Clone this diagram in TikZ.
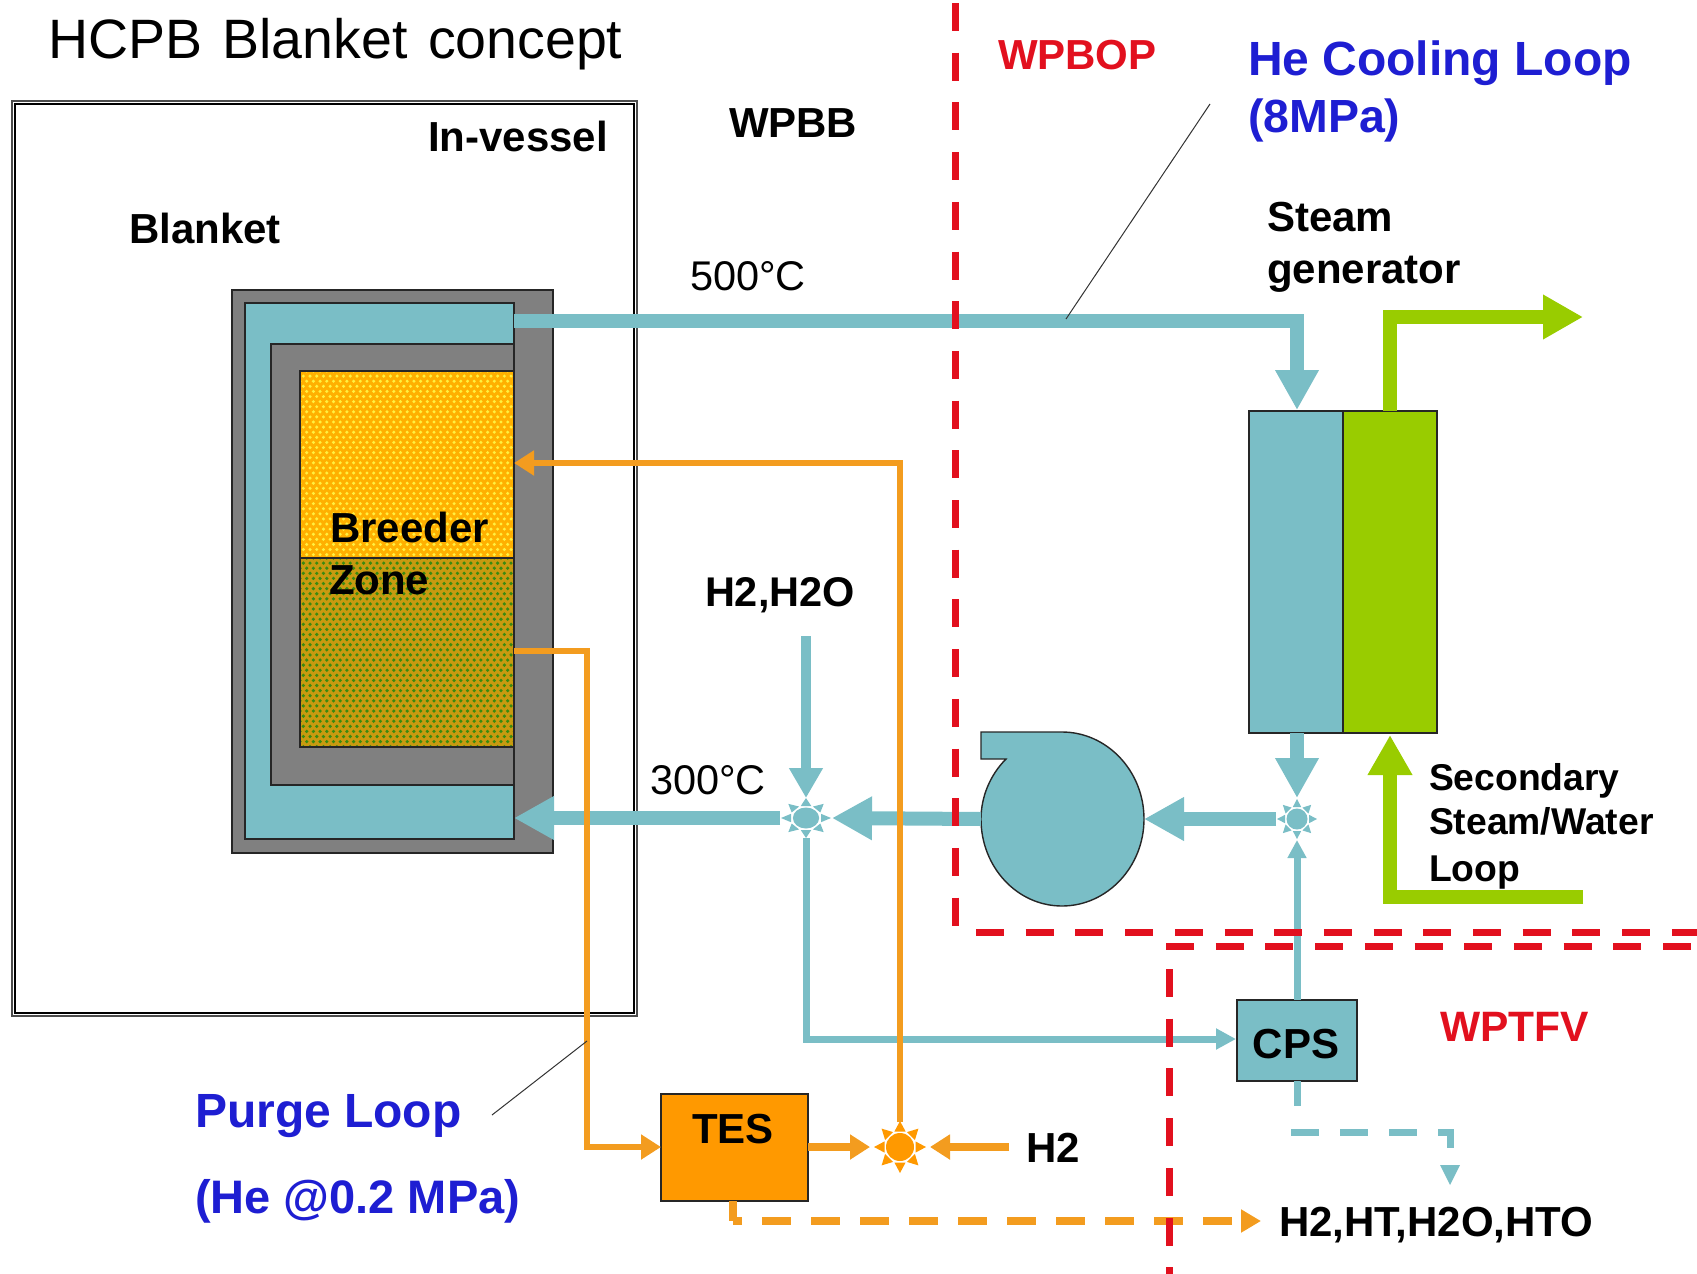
\documentclass[tikz,border=0pt]{standalone}
\usepackage{fontspec}
\setmainfont{Liberation Sans}
\usetikzlibrary{arrows.meta,calc}
\definecolor{cteal}{HTML}{7ABEC6}
\definecolor{cgreen}{HTML}{99CC00}
\definecolor{corange}{HTML}{FF9900}
\definecolor{cline}{HTML}{F39C1F}
\definecolor{cgrey}{HTML}{808080}
\definecolor{cred}{HTML}{E2101E}
\definecolor{cblue}{HTML}{1E1ED2}
\definecolor{cyel}{HTML}{FFF040}
\definecolor{cbase}{HTML}{FFB000}
\definecolor{cbaseb}{HTML}{C89A10}
\definecolor{cdgreen}{HTML}{3A8A10}
\tikzset{
  boxed/.style={draw=black!85,line width=1.6pt,inner sep=0,outer sep=0},
  lbl/.style={inner sep=0,outer sep=0,anchor=west,text height=30pt,text depth=0pt,font=\fontsize{42}{42}\selectfont\bfseries},
  lblc/.style={lbl,anchor=center},
  reg/.style={lbl,font=\fontsize{41.5}{42}\selectfont},
  bluet/.style={lbl,text=cblue,text height=34pt,font=\fontsize{48}{48}\selectfont\bfseries},
  redt/.style={lbl,text=cred,font=\fontsize{42.5}{42}\selectfont\bfseries},
  small/.style={lbl,text height=27pt,font=\fontsize{37.3}{37}\selectfont\bfseries},
  pipe/.style={draw=cteal,line width=14pt,-{Triangle[length=40pt,width=41pt]}},
  tpipe/.style={draw=cteal,line width=7pt,-{Triangle[length=20pt,width=20pt]}},
  gpipe/.style={draw=cgreen,line width=14pt,-{Triangle[length=40pt,width=42pt]}},
  opipe/.style={draw=cline,line width=5.5pt,-{Triangle[length=20pt,width=24pt]}},
  opipeb/.style={draw=cline,line width=8pt,-{Triangle[length=20pt,width=24pt]}},
  reddash/.style={draw=cred,line width=7pt,dash pattern=on 28pt off 21.7pt},
  leader/.style={draw=black!80,line width=1pt},
  junc/.style n args={2}{rectangle,inner sep=0,outer sep=0,minimum width=#1,minimum height=#2},
  pics/sun/.style n args={3}{code={
    \fill[#1] (0,0) circle (#2);
    \foreach \a in {0,45,...,315}{
      \fill[#1,rotate=\a] (#2+1.5pt,-#2*0.4) -- (#3,0) -- (#2+1.5pt,#2*0.4) -- cycle;
    }
  }}
}
\begin{document}
\begin{tikzpicture}[x=1pt,y=-1pt]
\useasboundingbox (0,0) rectangle (1697,1274);
% in-vessel frame
\node[draw=black!70,line width=1.8pt,inner sep=0,minimum width=625pt,minimum height=915pt,anchor=north west] (frameout) at (11,100) {};
\node[draw=black,line width=1.8pt,inner sep=0,minimum width=619pt,minimum height=909pt,anchor=north west] (framein) at (14,103) {};
% blanket
\node[boxed,fill=cgrey,minimum width=321pt,minimum height=563pt,anchor=north west] (blkt) at (232,290) {};
\node[boxed,fill=cteal,minimum width=269pt,minimum height=536pt,anchor=north west] (coolant) at (245,303) {};
\node[boxed,fill=cgrey,minimum width=243pt,minimum height=441pt,anchor=north west] (wall) at (271,344) {};
\fill[cbase] (300,371) rectangle (514,558);
\fill[cbaseb] (300,558) rectangle (514,747);
\begin{scope}
\clip (300,371) rectangle (514,558);
\foreach \r in {0,...,37}{
  \foreach \c in {0,...,32}{
    \fill[cyel] ({300+\c*6.7+mod(\r,2)*3.35},{371+\r*5.1}) circle (1.7pt);
  }
}
\end{scope}
\begin{scope}
\clip (300,558) rectangle (514,747);
\foreach \r in {0,...,37}{
  \foreach \c in {0,...,32}{
    \fill[cdgreen] ({300+\c*6.7+mod(\r,2)*3.35},{558+\r*5.1}) circle (1.8pt);
  }
}
\end{scope}
\node[boxed,minimum width=214pt,minimum height=187pt,anchor=north west] (bzu) at (300,371) {};
\node[boxed,minimum width=214pt,minimum height=189pt,anchor=north west] (bzl) at (300,558) {};
\node[lbl] (tbreeder) at (330,527) {Breeder};
\node[lbl] (tzone) at (329,579) {Zone};
% anchor points
\coordinate (bzh) at (514,321);
\coordinate (bzc) at (514,818);
\coordinate (ot) at (514,463);
\coordinate (ob) at (514,651);
% steam generator
\node[boxed,fill=cteal,minimum width=94pt,minimum height=322pt,anchor=north west] (sgt) at (1249,411) {};
\node[boxed,fill=cgreen,minimum width=94pt,minimum height=322pt,anchor=north west] (sgg) at (1343,411) {};
% junctions
\node[junc={52pt}{40pt}] (j1) at (806,818) {};
\node[junc={42pt}{42pt}] (j2) at (1297,819) {};
\node[junc={60pt}{50pt}] (j3) at (900,1147) {};
\pic[xscale=1.25] at (j1) {sun={cteal}{10.5pt}{20pt}};
\pic at (j2) {sun={cteal}{10.5pt}{20pt}};
\pic at (j3) {sun={corange}{14pt}{26pt}};
% pump
\fill[cteal,draw=black!85,line width=1.4pt] (981,732) -- (1062,732)
  .. controls (1107,732) and (1144,771) .. (1144,819)
  .. controls (1144,867) and (1107,906) .. (1062,906)
  .. controls (1017,906) and (981,867) .. (981,819)
  .. controls (981,797) and (990,775) .. (1006,759)
  -- (981,759) -- cycle;
\node[inner sep=0,outer sep=0,minimum width=163pt,minimum height=174pt] (pump) at (1062.5,819) {};
% CPS, TES
\node[boxed,fill=cteal,minimum width=120pt,minimum height=81pt,anchor=north west] (cps) at (1237,1000) {};
\node[boxed,fill=corange,minimum width=147pt,minimum height=107pt,anchor=north west] (tes) at (661,1094) {};
\node[lblc] at (1296,1043) {CPS};
\node[lblc] at (733,1128) {TES};
% teal connectors
\coordinate (hin) at (806,636);
\coordinate (c1) at (1297,321);
\coordinate (cpsL) at (1236,1039);
\coordinate (bot1) at (806,1039);
\coordinate (cpsT) at (1297,1000);
\coordinate (cpsB) at (1297,1081);
\coordinate (cpsS) at (1297,1106);
\coordinate (d1) at (1291,1132);
\coordinate (d2) at (1450,1132);
\coordinate (d3) at (1450,1185);
\draw[pipe] (bzh) -- (c1) -- (1297,410);
\draw[pipe] (1297,733) -- (j2.north);
\draw[pipe] (j2.west) -- (pump.east);
\draw[pipe] (pump.west) -- (j1.east);
\draw[pipe] (j1.west) -- (bzc);
\draw[draw=cteal,line width=10pt,-{Triangle[length=30pt,width=32pt]}] (hin) -- (j1.north);
\draw[tpipe] (j1.south) -- (bot1) -- (cpsL);
\draw[draw=cteal,line width=7pt,-{Triangle[length=18pt,width=18pt]}] (cpsT) -- (j2.south);
\draw[draw=cteal,line width=7pt] (cpsB) -- (cpsS);
\draw[draw=cteal,line width=7pt,dash pattern=on 28pt off 21pt] (d1) -- (d2) -- (1450,1152);
\fill[cteal] (1440,1165) -- (1460,1165) -- (d3) -- cycle;
% green connectors
\coordinate (g1) at (1390,317);
\coordinate (g2) at (1583,317);
\coordinate (g3) at (1583,897);
\coordinate (g4) at (1390,897);
\coordinate (g5) at (1390,735);
\draw[gpipe] (sgg.north) -- (g1) -- (g2);
\draw[gpipe] (g3) -- (g4) -- (g5);
% orange connectors
\coordinate (o1) at (900,463);
\coordinate (o2) at (587,651);
\coordinate (o3) at (587,1147);
\coordinate (h2in) at (1009,1147);
\coordinate (tesB) at (733,1201);
\coordinate (o4) at (733,1221);
\coordinate (o5) at (1261,1221);
\draw[opipe] (j3.north) -- (o1) -- (ot);
\draw[opipe] (ob) -- (o2) -- (o3) -- (tes.west |- j3);
\draw[opipeb] (tes.east |- j3) -- (j3.west);
\draw[opipeb] (h2in) -- (j3.east);
\draw[draw=cline,line width=8pt] (tesB) -- (o4);
\draw[draw=cline,line width=8pt,dash pattern=on 29pt off 20pt,dash phase=20pt,-{Triangle[length=20pt,width=22pt]}] (o4) -- (o5);
% red boundaries
\coordinate (r1) at (955,3);
\coordinate (r2) at (955,931);
\coordinate (r3) at (976,932);
\coordinate (r4) at (1697,932);
\coordinate (r5) at (1169,1274);
\coordinate (r6) at (1169,969);
\coordinate (r7) at (1697,946);
\coordinate (r8) at (1166,946);
\draw[reddash] (r1) -- (r2);
\draw[reddash] (r3) -- (r4);
\draw[reddash] (r8) -- (r7);
\draw[reddash] (r6) -- (r5);
% leaders
\coordinate (la1) at (1210,104);
\coordinate (la2) at (1066,319);
\coordinate (lb1) at (492,1115);
\coordinate (lb2) at (587,1041);
\draw[leader] (la1) -- (la2);
\draw[leader] (lb1) -- (lb2);
% labels
\node[reg,font=\fontsize{55.5}{55}\selectfont,text height=40pt] (ttitle) at (48,38) {HCPB\hspace{5pt} Blanket\hspace{5pt} concept};
\node[lbl,anchor=east] at (608,136) {In-vessel};
\node[lbl] at (729,122) {WPBB};
\node[lbl] at (129,228) {Blanket};
\node[reg] at (690,275) {500°C};
\node[reg] at (650,779) {300°C};
\node[lbl,font=\fontsize{41.5}{42}\selectfont\bfseries] at (705,591) {H2,H2O};
\node[redt,font=\fontsize{42}{42}\selectfont\bfseries] at (998,54) {WPBOP};
\node[bluet] at (1248,58) {He Cooling Loop};
\node[bluet,font=\fontsize{46.5}{48}\selectfont\bfseries] at (1248,115) {(8MPa)};
\node[lbl] at (1267,216) {Steam};
\node[lbl] at (1267,268) {generator};
\node[small] at (1429,777) {Secondary};
\node[small] at (1429,821) {Steam/Water};
\node[small] at (1429,868) {Loop};
\node[redt] at (1440,1026) {WPTFV};
\node[lbl] at (1026,1147) {H2};
\node[lbl] at (1279,1221) {H2,HT,H2O,HTO};
\node[bluet] at (195,1110) {Purge Loop};
\node[bluet,font=\fontsize{47}{48}\selectfont\bfseries] at (195,1196) {(He @0.2 MPa)};
\end{tikzpicture}
\end{document}
